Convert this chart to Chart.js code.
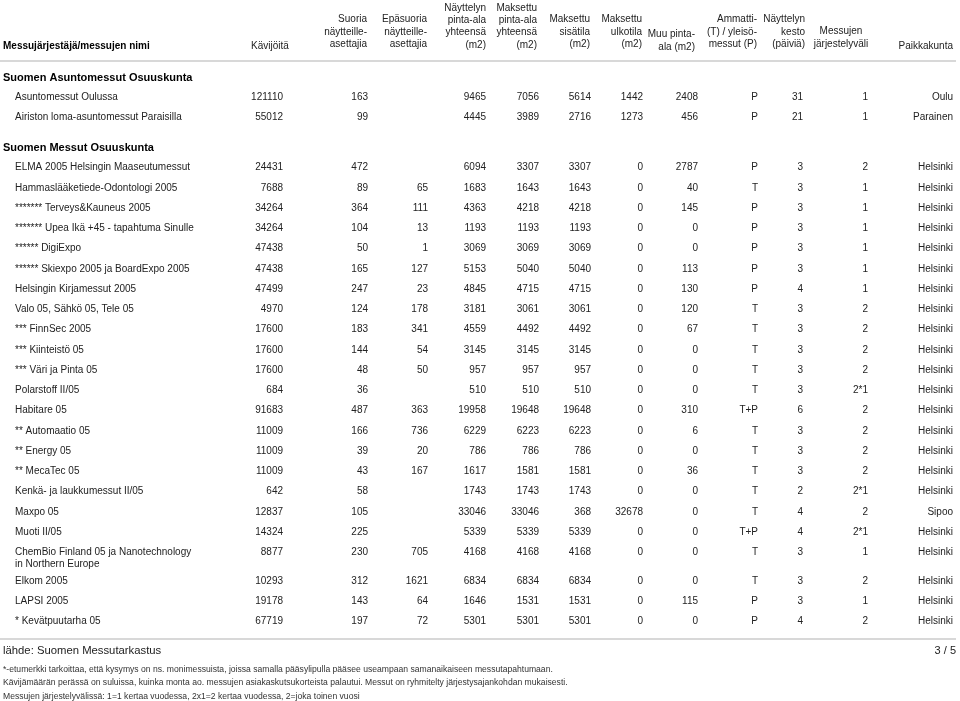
<!DOCTYPE html>
<html>
<head>
<meta charset="utf-8">
<script src="https://cdn.jsdelivr.net/npm/chart.js@4"></script>
<style>
  html, body { margin: 0; padding: 0; background: #fff; }
  #wrap { width: 960px; height: 701px; position: relative; }
</style>
</head>
<body>
<div id="wrap"><canvas id="c"></canvas></div>
<script>
// ---------------- DATA ----------------
const groupNames = ["Suomen Asuntomessut Osuuskunta", "Suomen Messut Osuuskunta"];
const groupStartRow = [0, 2];

const fairNames = [
  "Asuntomessut Oulussa",
  "Airiston loma-asuntomessut Paraisilla",
  "ELMA 2005 Helsingin Maaseutumessut",
  "Hammaslääketiede-Odontologi 2005",
  "******* Terveys&Kauneus 2005",
  "******* Upea Ikä +45 - tapahtuma Sinulle",
  "****** DigiExpo",
  "****** Skiexpo 2005 ja BoardExpo 2005",
  "Helsingin Kirjamessut 2005",
  "Valo 05, Sähkö 05, Tele 05",
  "*** FinnSec 2005",
  "*** Kiinteistö 05",
  "*** Väri ja Pinta 05",
  "Polarstoff II/05",
  "Habitare 05",
  "** Automaatio 05",
  "** Energy 05",
  "** MecaTec 05",
  "Kenkä- ja laukkumessut II/05",
  "Maxpo 05",
  "Muoti II/05",
  "ChemBio Finland 05 ja Nanotechnology\nin Northern Europe",
  "Elkom 2005",
  "LAPSI 2005",
  "* Kevätpuutarha 05"
];
const visitors = [121110, 55012, 24431, 7688, 34264, 34264, 47438, 47438, 47499, 4970, 17600, 17600, 17600, 684, 91683, 11009, 11009, 11009, 642, 12837, 14324, 8877, 10293, 19178, 67719];
const directExhibitors = [163, 99, 472, 89, 364, 104, 50, 165, 247, 124, 183, 144, 48, 36, 487, 166, 39, 43, 58, 105, 225, 230, 312, 143, 197];
const indirectExhibitors = [null, null, null, 65, 111, 13, 1, 127, 23, 178, 341, 54, 50, null, 363, 736, 20, 167, null, null, null, 705, 1621, 64, 72];
const totalArea = [9465, 4445, 6094, 1683, 4363, 1193, 3069, 5153, 4845, 3181, 4559, 3145, 957, 510, 19958, 6229, 786, 1617, 1743, 33046, 5339, 4168, 6834, 1646, 5301];
const paidArea = [7056, 3989, 3307, 1643, 4218, 1193, 3069, 5040, 4715, 3061, 4492, 3145, 957, 510, 19648, 6223, 786, 1581, 1743, 33046, 5339, 4168, 6834, 1531, 5301];
const paidIndoor = [5614, 2716, 3307, 1643, 4218, 1193, 3069, 5040, 4715, 3061, 4492, 3145, 957, 510, 19648, 6223, 786, 1581, 1743, 368, 5339, 4168, 6834, 1531, 5301];
const paidOutdoor = [1442, 1273, 0, 0, 0, 0, 0, 0, 0, 0, 0, 0, 0, 0, 0, 0, 0, 0, 0, 32678, 0, 0, 0, 0, 0];
const otherArea = [2408, 456, 2787, 40, 145, 0, 0, 113, 130, 120, 67, 0, 0, 0, 310, 6, 0, 36, 0, 0, 0, 0, 0, 115, 0];
const fairType = ["P", "P", "P", "T", "P", "P", "P", "P", "P", "T", "T", "T", "T", "T", "T+P", "T", "T", "T", "T", "T", "T+P", "T", "T", "P", "P"];
const durationDays = [31, 21, 3, 3, 3, 3, 3, 3, 4, 3, 3, 3, 3, 3, 6, 3, 3, 3, 2, 4, 4, 3, 3, 3, 4];
const interval = ["1", "1", "2", "1", "1", "1", "1", "1", "1", "2", "2", "2", "2", "2*1", "2", "2", "2", "2", "2*1", "2", "2*1", "1", "2", "1", "2"];
const city = ["Oulu", "Parainen", "Helsinki", "Helsinki", "Helsinki", "Helsinki", "Helsinki", "Helsinki", "Helsinki", "Helsinki", "Helsinki", "Helsinki", "Helsinki", "Helsinki", "Helsinki", "Helsinki", "Helsinki", "Helsinki", "Helsinki", "Sipoo", "Helsinki", "Helsinki", "Helsinki", "Helsinki", "Helsinki"];

const columnHeaders = [
  ["Messujärjestäjä/messujen nimi"],
  ["Kävijöitä"],
  ["Suoria", "näytteille-", "asettajia"],
  ["Epäsuoria", "näytteille-", "asettajia"],
  ["Näyttelyn", "pinta-ala", "yhteensä", "(m2)"],
  ["Maksettu", "pinta-ala", "yhteensä", "(m2)"],
  ["Maksettu", "sisätila", "(m2)"],
  ["Maksettu", "ulkotila", "(m2)"],
  ["Muu pinta-", "ala (m2)"],
  ["Ammatti-", "(T) / yleisö-", "messut (P)"],
  ["Näyttelyn", "kesto", "(päiviä)"],
  ["Messujen", "järjestelyväli"],
  ["Paikkakunta"]
];
const sourceText = "lähde: Suomen Messutarkastus";
const pageText = "3 / 5";
const footnotes = [
  "*-etumerkki tarkoittaa, että kysymys on ns. monimessuista, joissa samalla pääsylipulla pääsee useampaan samanaikaiseen messutapahtumaan.",
  "Kävijämäärän perässä on suluissa, kuinka monta ao. messujen asiakaskutsukorteista palautui. Messut on ryhmitelty järjestysajankohdan mukaisesti.",
  "Messujen järjestelyvälissä: 1=1 kertaa vuodessa, 2x1=2 kertaa vuodessa, 2=joka toinen vuosi"
];

// ---------------- LAYOUT / STYLE ----------------
const FONT = '"Liberation Sans", Arial, Helvetica, sans-serif';
const TEXT_COLOR = '#222';
const LAYOUT = { startY: 77.5, groupStep: 19.5, rowStep: 20.25, groupGap: 10.5, extraPerLine: 8.3, innerLineGap: 11.5 };

const COLUMNS = [
  { values: fairNames,          x: 15,  align: 'left'   },
  { values: visitors,           x: 283, align: 'right'  },
  { values: directExhibitors,   x: 368, align: 'right'  },
  { values: indirectExhibitors, x: 428, align: 'right'  },
  { values: totalArea,          x: 486, align: 'right'  },
  { values: paidArea,           x: 539, align: 'right'  },
  { values: paidIndoor,         x: 591, align: 'right'  },
  { values: paidOutdoor,        x: 643, align: 'right'  },
  { values: otherArea,          x: 698, align: 'right'  },
  { values: fairType,           x: 758, align: 'right'  },
  { values: durationDays,       x: 803, align: 'right'  },
  { values: interval,           x: 868, align: 'right'  },
  { values: city,               x: 953, align: 'right'  }
];
const HEADER_LAYOUT = [
  { x: 3,   align: 'left',   bottom: 46, bold: true },
  { x: 270, align: 'center', bottom: 46 },
  { x: 367, align: 'right',  bottom: 44.5 },
  { x: 427, align: 'right',  bottom: 44.5 },
  { x: 486, align: 'right',  bottom: 45 },
  { x: 537, align: 'right',  bottom: 45 },
  { x: 590, align: 'right',  bottom: 44.5 },
  { x: 642, align: 'right',  bottom: 44.5 },
  { x: 695, align: 'right',  bottom: 47 },
  { x: 757, align: 'right',  bottom: 44.5 },
  { x: 805, align: 'right',  bottom: 44.5 },
  { x: 841, align: 'center', bottom: 44 },
  { x: 953, align: 'right',  bottom: 46 }
];
const HEADER_LINE_GAP = 12.4;

// compute row positions from row structure
const rowY = [];
const groupY = [];
(function () {
  let y = LAYOUT.startY;
  for (let i = 0; i < fairNames.length; i++) {
    const g = groupStartRow.indexOf(i);
    if (g >= 0) {
      if (g > 0) y += LAYOUT.groupGap;
      groupY[g] = y;
      y += LAYOUT.groupStep;
    }
    rowY[i] = y;
    const lines = fairNames[i].split('\n').length;
    y += LAYOUT.rowStep + (lines - 1) * LAYOUT.extraPerLine;
  }
})();

const datasets = COLUMNS.map((col, ci) => ({
  label: 'col' + ci,
  data: col.values.map((v, i) => v == null ? null : { x: col.x, y: rowY[i], t: String(v) }).filter(Boolean),
  textAlign: col.align,
  textFont: '10px ' + FONT,
  textColor: TEXT_COLOR,
  pointRadius: 0,
  showLine: false
}));
datasets.push({
  label: 'groups',
  data: groupNames.map((g, k) => ({ x: 3, y: groupY[k], t: g })),
  textAlign: 'left',
  textFont: 'bold 11px ' + FONT,
  textColor: '#000',
  pointRadius: 0,
  showLine: false
});

const tablePlugin = {
  id: 'tableText',
  afterDatasetsDraw(chart) {
    const ctx = chart.ctx;
    const xs = chart.scales.x, ys = chart.scales.y;
    ctx.save();
    // header
    columnHeaders.forEach((lines, ci) => {
      const h = HEADER_LAYOUT[ci];
      ctx.font = (h.bold ? 'bold ' : '') + '10px ' + FONT;
      ctx.fillStyle = h.bold ? '#000' : TEXT_COLOR;
      ctx.textAlign = h.align;
      ctx.textBaseline = 'middle';
      const n = lines.length;
      lines.forEach((ln, li) => {
        const yy = h.bottom - (n - 1 - li) * HEADER_LINE_GAP;
        ctx.fillText(ln, xs.getPixelForValue(h.x), ys.getPixelForValue(yy));
      });
    });
    // rules
    ctx.strokeStyle = '#cbcbcb';
    ctx.lineWidth = 1.5;
    [61, 639].forEach(v => {
      ctx.beginPath();
      ctx.moveTo(xs.getPixelForValue(0), ys.getPixelForValue(v));
      ctx.lineTo(xs.getPixelForValue(956), ys.getPixelForValue(v));
      ctx.stroke();
    });
    // cells
    chart.data.datasets.forEach((ds, di) => {
      const meta = chart.getDatasetMeta(di);
      ctx.font = ds.textFont;
      ctx.fillStyle = ds.textColor;
      ctx.textAlign = ds.textAlign;
      ctx.textBaseline = 'middle';
      meta.data.forEach((pt, i) => {
        const raw = ds.data[i];
        raw.t.split('\n').forEach((ln, li) => {
          ctx.fillText(ln, pt.x, pt.y + li * LAYOUT.innerLineGap);
        });
      });
    });
    // footer
    ctx.fillStyle = TEXT_COLOR;
    ctx.textAlign = 'left';
    ctx.font = '11.3px ' + FONT;
    ctx.fillText(sourceText, xs.getPixelForValue(3), ys.getPixelForValue(651));
    ctx.textAlign = 'right';
    ctx.font = '11px ' + FONT;
    ctx.fillText(pageText, xs.getPixelForValue(956), ys.getPixelForValue(651));
    ctx.textAlign = 'left';
    ctx.font = '8.6px ' + FONT;
    ctx.fillStyle = '#333';
    [670, 683, 696.5].forEach((yy, k) => {
      ctx.fillText(footnotes[k], xs.getPixelForValue(3), ys.getPixelForValue(yy));
    });
    ctx.restore();
  }
};

new Chart(document.getElementById('c'), {
  type: 'scatter',
  data: { datasets },
  options: {
    responsive: true,
    maintainAspectRatio: false,
    animation: false,
    events: [],
    layout: { padding: 0 },
    plugins: { legend: { display: false }, tooltip: { enabled: false }, title: { display: false } },
    scales: {
      x: { type: 'linear', min: 0, max: 960, display: false },
      y: { type: 'linear', min: 0, max: 701, reverse: true, display: false }
    }
  },
  plugins: [tablePlugin]
});
</script>
</body>
</html>
